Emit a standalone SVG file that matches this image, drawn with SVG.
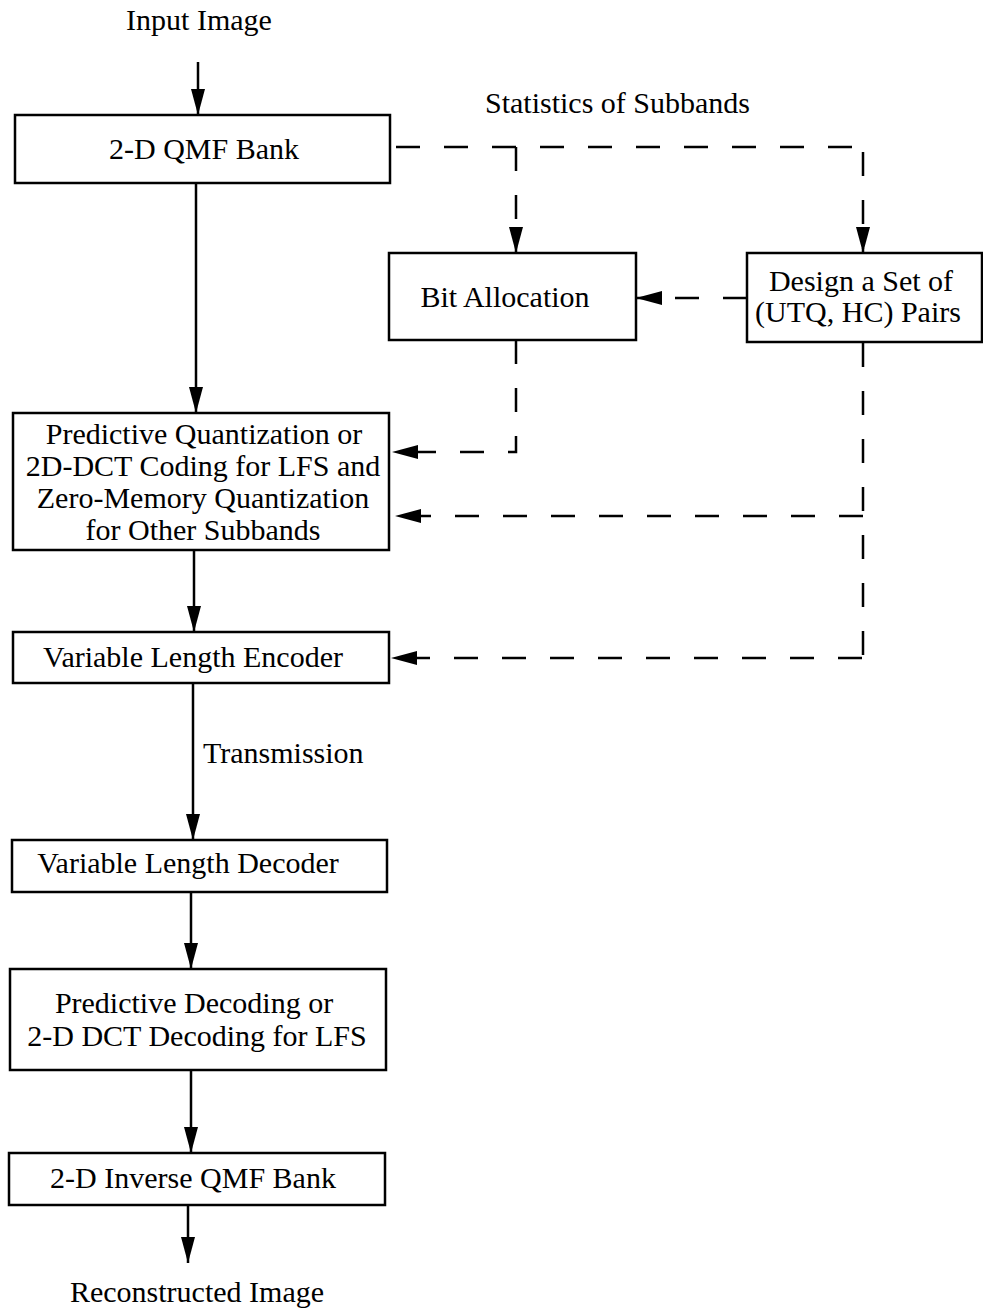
<svg xmlns="http://www.w3.org/2000/svg" width="983" height="1311" viewBox="0 0 983 1311">
<style>
text{font-family:"Liberation Serif","Times New Roman",serif;font-size:30px;fill:#000}
.c{text-anchor:middle}
.box{fill:#fff;stroke:#000;stroke-width:2.5}
.ln{fill:none;stroke:#000;stroke-width:2.5}
.ds{fill:none;stroke:#000;stroke-width:2.5;stroke-dasharray:24 24}
</style>
<defs>
<marker id="ah" markerUnits="userSpaceOnUse" markerWidth="28" markerHeight="16" refX="26" refY="7" orient="auto">
<path d="M0,0 L26,7 L0,14 Z" fill="#000"/>
</marker>
</defs>
<rect width="983" height="1311" fill="#fff"/>
<g id="connectors">
<path class="ln" d="M198,62 V115" marker-end="url(#ah)"/>
<path class="ln" d="M196,183 V413" marker-end="url(#ah)"/>
<path class="ln" d="M194,550 V632" marker-end="url(#ah)"/>
<path class="ln" d="M193,683 V840" marker-end="url(#ah)"/>
<path class="ln" d="M191,892 V969" marker-end="url(#ah)"/>
<path class="ln" d="M191,1070 V1153" marker-end="url(#ah)"/>
<path class="ln" d="M188,1205 V1263" marker-end="url(#ah)"/>
<path class="ds" d="M396,147 H852"/>
<path class="ds" d="M516,147 V253" marker-end="url(#ah)"/>
<path class="ds" d="M863,152 V253" marker-end="url(#ah)"/>
<path class="ds" d="M747,298 H636" marker-end="url(#ah)"/>
<path class="ds" d="M516,340 V452 H392" marker-end="url(#ah)"/>
<path class="ds" d="M863,343 V658"/>
<path class="ds" d="M863,516 H395" marker-end="url(#ah)"/>
<path class="ds" d="M862,658 H391" marker-end="url(#ah)"/>
</g>
<g id="input-label"><text class="c" x="199" y="30">Input Image</text></g>
<g id="stats-label"><text x="485" y="113">Statistics of Subbands</text></g>
<g id="qmf-bank">
<rect class="box" x="15" y="115" width="375" height="68"/>
<text class="c" x="204" y="159">2-D QMF Bank</text>
</g>
<g id="bit-allocation">
<rect class="box" x="389" y="253" width="247" height="87"/>
<text class="c" x="505" y="307">Bit Allocation</text>
</g>
<g id="design-set">
<rect class="box" x="747" y="253" width="235" height="89"/>
<text class="c" x="861" y="291">Design a Set of</text>
<text class="c" x="858" y="322">(UTQ, HC) Pairs</text>
</g>
<g id="quantization">
<rect class="box" x="13" y="413" width="376" height="137"/>
<text class="c" x="204" y="444">Predictive Quantization or</text>
<text class="c" x="203" y="476">2D-DCT Coding for LFS and</text>
<text class="c" x="203" y="508">Zero-Memory Quantization</text>
<text class="c" x="203" y="540">for Other Subbands</text>
</g>
<g id="vl-encoder">
<rect class="box" x="13" y="632" width="376" height="51"/>
<text class="c" x="193" y="667">Variable Length Encoder</text>
</g>
<g id="transmission-label"><text x="203" y="763">Transmission</text></g>
<g id="vl-decoder">
<rect class="box" x="12" y="840" width="375" height="52"/>
<text class="c" x="188" y="873">Variable Length Decoder</text>
</g>
<g id="decoding">
<rect class="box" x="10" y="969" width="376" height="101"/>
<text class="c" x="194" y="1013">Predictive Decoding or</text>
<text class="c" x="197" y="1046">2-D DCT Decoding for LFS</text>
</g>
<g id="inverse-qmf">
<rect class="box" x="9" y="1153" width="376" height="52"/>
<text class="c" x="193" y="1188">2-D Inverse QMF Bank</text>
</g>
<g id="output-label"><text class="c" x="197" y="1302">Reconstructed Image</text></g>
</svg>
